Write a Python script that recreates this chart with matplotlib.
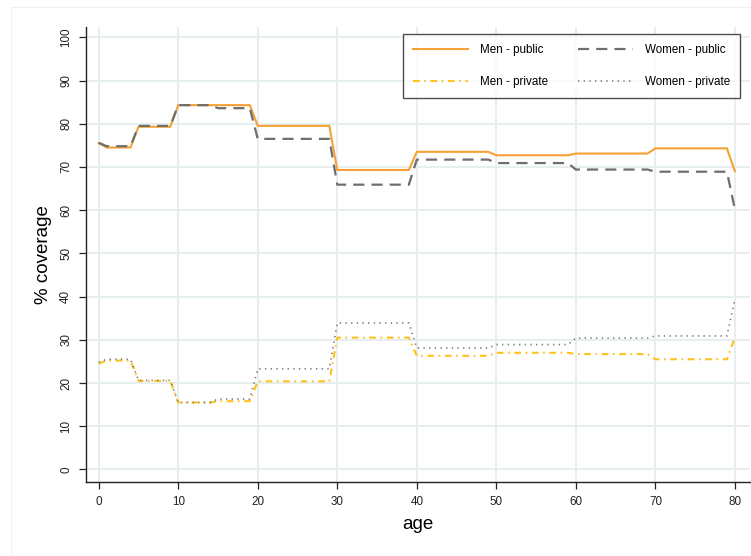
import matplotlib
matplotlib.use("Agg")
import matplotlib.pyplot as plt
from matplotlib.patches import Rectangle

plt.rcParams['font.family'] = ['Liberation Sans', 'DejaVu Sans']

ages = list(range(0, 81))

men_public = [75.5,
              74.5, 74.5, 74.5, 74.5,
              79.3, 79.3, 79.3, 79.3, 79.3,
              84.3, 84.3, 84.3, 84.3, 84.3, 84.3, 84.3, 84.3, 84.3, 84.3,
              79.5, 79.5, 79.5, 79.5, 79.5, 79.5, 79.5, 79.5, 79.5, 79.5,
              69.3, 69.3, 69.3, 69.3, 69.3, 69.3, 69.3, 69.3, 69.3, 69.3,
              73.5, 73.5, 73.5, 73.5, 73.5, 73.5, 73.5, 73.5, 73.5, 73.5,
              72.7, 72.7, 72.7, 72.7, 72.7, 72.7, 72.7, 72.7, 72.7, 72.7,
              73.1, 73.1, 73.1, 73.1, 73.1, 73.1, 73.1, 73.1, 73.1, 73.1,
              74.3, 74.3, 74.3, 74.3, 74.3, 74.3, 74.3, 74.3, 74.3, 74.3,
              69.0]

women_public = [75.6,
                74.8, 74.8, 74.8, 74.8,
                79.5, 79.5, 79.5, 79.5, 79.5,
                84.3, 84.3, 84.3, 84.3, 84.3, 83.6, 83.6, 83.6, 83.6, 83.6,
                76.5, 76.5, 76.5, 76.5, 76.5, 76.5, 76.5, 76.5, 76.5, 76.5,
                65.9, 65.9, 65.9, 65.9, 65.9, 65.9, 65.9, 65.9, 65.9, 65.9,
                71.7, 71.7, 71.7, 71.7, 71.7, 71.7, 71.7, 71.7, 71.7, 71.7,
                70.9, 70.9, 70.9, 70.9, 70.9, 70.9, 70.9, 70.9, 70.9, 70.9,
                69.4, 69.4, 69.4, 69.4, 69.4, 69.4, 69.4, 69.4, 69.4, 69.4,
                68.9, 68.9, 68.9, 68.9, 68.9, 68.9, 68.9, 68.9, 68.9, 68.9,
                60.2]

men_private = [24.5,
               25.2, 25.2, 25.2, 25.2,
               20.5, 20.5, 20.5, 20.5, 20.5,
               15.5, 15.5, 15.5, 15.5, 15.5, 15.8, 15.8, 15.8, 15.8, 15.8,
               20.4, 20.4, 20.4, 20.4, 20.4, 20.4, 20.4, 20.4, 20.4, 20.4,
               30.5, 30.5, 30.5, 30.5, 30.5, 30.5, 30.5, 30.5, 30.5, 30.5,
               26.3, 26.3, 26.3, 26.3, 26.3, 26.3, 26.3, 26.3, 26.3, 26.3,
               27.0, 27.0, 27.0, 27.0, 27.0, 27.0, 27.0, 27.0, 27.0, 27.0,
               26.7, 26.7, 26.7, 26.7, 26.7, 26.7, 26.7, 26.7, 26.7, 26.7,
               25.5, 25.5, 25.5, 25.5, 25.5, 25.5, 25.5, 25.5, 25.5, 25.5,
               30.5]

women_private = [24.8,
                 25.5, 25.5, 25.5, 25.5,
                 20.6, 20.6, 20.6, 20.6, 20.6,
                 15.5, 15.5, 15.5, 15.5, 15.5, 16.3, 16.3, 16.3, 16.3, 16.3,
                 23.3, 23.3, 23.3, 23.3, 23.3, 23.3, 23.3, 23.3, 23.3, 23.3,
                 33.9, 33.9, 33.9, 33.9, 33.9, 33.9, 33.9, 33.9, 33.9, 33.9,
                 28.1, 28.1, 28.1, 28.1, 28.1, 28.1, 28.1, 28.1, 28.1, 28.1,
                 28.9, 28.9, 28.9, 28.9, 28.9, 28.9, 28.9, 28.9, 28.9, 28.9,
                 30.4, 30.4, 30.4, 30.4, 30.4, 30.4, 30.4, 30.4, 30.4, 30.4,
                 30.9, 30.9, 30.9, 30.9, 30.9, 30.9, 30.9, 30.9, 30.9, 30.9,
                 39.4]

x_ticks = [0, 10, 20, 30, 40, 50, 60, 70, 80]
y_ticks = [0, 10, 20, 30, 40, 50, 60, 70, 80, 90, 100]

fig = plt.figure(figsize=(7.51, 5.56), dpi=100)
fig.patches.append(Rectangle((11 / 751, 0.0), 1.0, 1 - 7 / 556, transform=fig.transFigure,
                             fill=False, edgecolor='#f0f0f0', linewidth=0.8, zorder=0))

ax = fig.add_axes([86 / 751, 1 - 482 / 556, 664 / 751, (482 - 26.5) / 556])

# plotted in legend order: men in the first column, women in the second
ax.plot(ages, men_public, color='#F7A034', lw=1.5, solid_joinstyle='miter',
        label='Men - public')
ax.plot(ages, men_private, color='#FFC21A', lw=1.5, linestyle=(0, (3.2, 2.2, 0.8, 2.2)),
        label='Men - private')
ax.plot(ages, women_public, color='#6E6E6E', lw=1.6, linestyle=(0, (5, 3.2)),
        label='Women - public')
ax.plot(ages, women_private, color='#7A7A7A', lw=1.2, linestyle=(0, (0.8, 2.6)),
        label='Women - private')

ax.set_xlim(-1.6, 81.9)
ax.set_ylim(-2.9, 102.5)
ax.set_xticks(x_ticks)
ax.set_yticks(y_ticks)
ax.tick_params(axis='both', direction='out', length=5, width=0.9, color='#222222',
               labelsize=8.4, labelcolor='#222222', pad=5)
for lab in ax.get_yticklabels():
    lab.set_rotation(90)
    lab.set_va('center')

ax.grid(True, color='#E6EEF0', lw=1.4)
ax.set_axisbelow(True)
for side in ('top', 'right'):
    ax.spines[side].set_visible(False)
for side in ('left', 'bottom'):
    ax.spines[side].set_linewidth(1.0)
    ax.spines[side].set_color('#222222')

ax.set_xlabel('age', fontsize=13.5, labelpad=6)
ax.set_ylabel('% coverage', fontsize=13.5, labelpad=5.5)

leg = ax.legend(ncol=2, loc='upper right', bbox_to_anchor=(740 / 751, 1 - 34 / 556),
                bbox_transform=fig.transFigure, fontsize=8.4, frameon=True,
                fancybox=False, edgecolor='#222222', handlelength=4.7,
                handletextpad=1.0, columnspacing=2.6, labelspacing=1.75,
                borderpad=0.85, borderaxespad=0)
leg.get_frame().set_linewidth(1.0)

fig.savefig('out.png', dpi=100)
